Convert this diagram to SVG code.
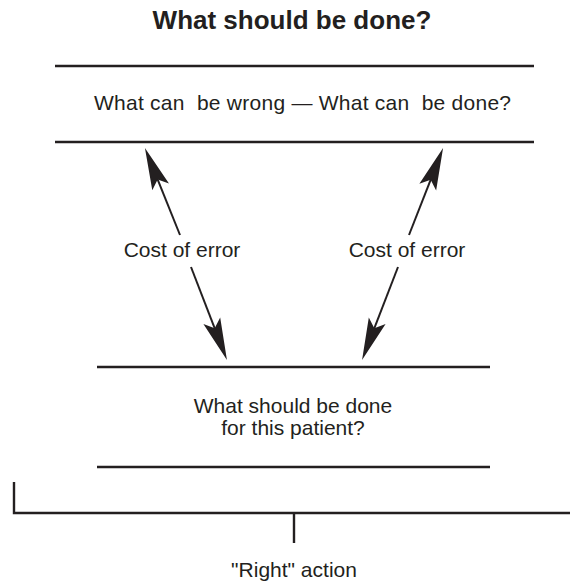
<svg xmlns="http://www.w3.org/2000/svg" width="570" height="583" viewBox="0 0 570 583">
<style>
text{font-family:"Liberation Sans",Arial,sans-serif;fill:#231f20;font-size:21px}
.title{font-weight:bold;font-size:26px}
.ln{stroke:#231f20;stroke-width:2.4;fill:none}
.ar{stroke:#231f20;stroke-width:2;fill:none}
</style>
<defs>
<marker id="ah" viewBox="0 -10 42 20" refX="10" refY="0" markerWidth="42" markerHeight="20" markerUnits="userSpaceOnUse" orient="auto">
<path d="M42,0 L0,-9 L8,0 L0,9 Z" fill="#231f20"/>
</marker>
</defs>
<rect width="570" height="583" fill="#fff"/>
<text class="title" x="292" y="29" text-anchor="middle">What should be done?</text>
<g id="top-node">
<line class="ln" x1="55" y1="66" x2="534" y2="66"/>
<line class="ln" x1="55" y1="142" x2="534" y2="142"/>
<text x="94" y="110" textLength="417" lengthAdjust="spacing" xml:space="preserve">What can  be wrong — What can  be done?</text>
</g>
<g id="bottom-node">
<line class="ln" x1="97" y1="367" x2="490" y2="367"/>
<line class="ln" x1="97" y1="467" x2="490" y2="467"/>
<text x="293" y="413" text-anchor="middle">What should be done</text>
<text x="293" y="435" text-anchor="middle">for this patient?</text>
</g>
<g id="right-action">
<path class="ln" d="M14,482 V513 H570 M294,513 V543"/>
<text x="294" y="577" text-anchor="middle">"Right" action</text>
</g>
<g id="connectors">
<line class="ar" x1="180" y1="235" x2="156.9" y2="177.7" marker-end="url(#ah)"/>
<line class="ar" x1="191" y1="267" x2="215.4" y2="330.1" marker-end="url(#ah)"/>
<line class="ar" x1="409" y1="235" x2="431.4" y2="177.8" marker-end="url(#ah)"/>
<line class="ar" x1="398" y1="267" x2="373.6" y2="330.1" marker-end="url(#ah)"/>
<text x="182" y="257" text-anchor="middle">Cost of error</text>
<text x="407" y="257" text-anchor="middle">Cost of error</text>
</g>
</svg>
